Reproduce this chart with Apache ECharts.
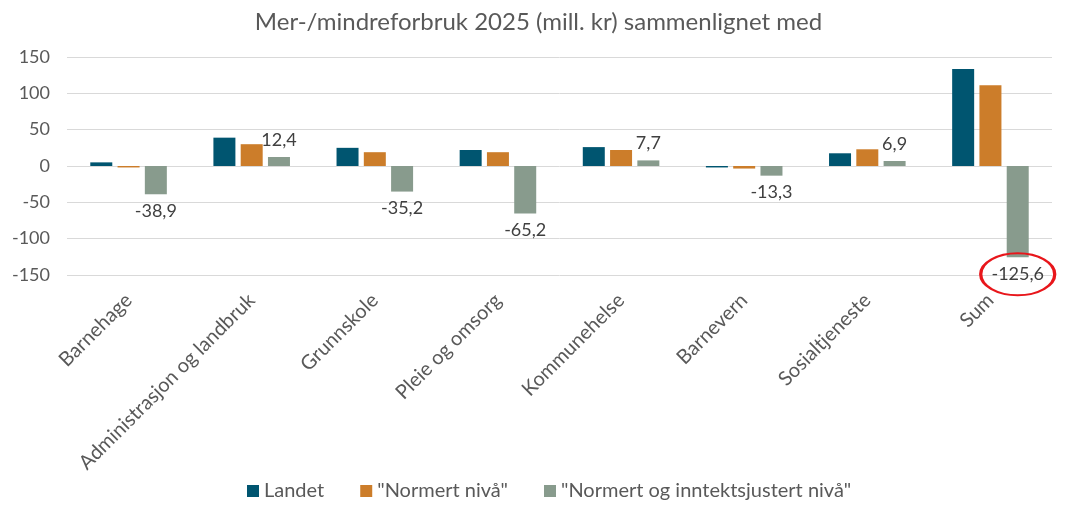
<!DOCTYPE html>
<html><head><meta charset="utf-8">
<script src="https://cdn.jsdelivr.net/npm/echarts@6/dist/echarts.min.js"></script>
<style>html,body{margin:0;padding:0;background:#fff}#c{width:1077px;height:509px}</style>
</head><body><div id="c"></div>
<script>
const categories = ["Barnehage","Administrasjon og landbruk","Grunnskole","Pleie og omsorg","Kommunehelse","Barnevern","Sosialtjeneste","Sum"];
const seriesNames = ["Landet","\"Normert nivå\"","\"Normert og inntektsjustert nivå\""];
const landet = [5, 39, 25, 22, 26, -2, 17.5, 133.5];
const normert = [-2, 30, 19, 19, 22, -3.5, 23, 111];
const inntektsjustert = [-38.9, 12.4, -35.2, -65.2, 7.7, -13.3, 6.9, -125.6];
const yTicks = {min: -150, max: 150, interval: 50};
const highlightCategory = "Sum";

const FONT = "Lato, 'Open Sans', sans-serif";
const colors = ["#005570", "#cc7d2a", "#889b8d"];
const fmt = v => String(v).replace('.', ',');

const chart = echarts.init(document.getElementById('c'), null, {renderer: 'canvas'});
const greenData = inntektsjustert.map(v => ({
  value: v,
  label: {position: v >= 0 ? 'top' : 'bottom', distance: 8}
}));
const hi = categories.indexOf(highlightCategory);
chart.setOption({
  animation: false,
  textStyle: {fontFamily: FONT},
  title: {
    text: "Mer-/mindreforbruk 2025 (mill. kr) sammenlignet med",
    left: 'center', top: 5,
    textStyle: {fontFamily: FONT, fontSize: 24, fontWeight: 'normal', color: '#595959'}
  },
  legend: {
    bottom: 3, left: 242,
    itemWidth: 12, itemHeight: 12, itemGap: 36,
    icon: 'rect',
    textStyle: {fontFamily: FONT, fontSize: 20, color: '#595959'},
    data: seriesNames
  },
  grid: {left: 67, right: 25, top: 57, bottom: 234, containLabel: false},
  xAxis: {
    type: 'category', data: categories,
    axisLine: {show: false, onZero: false}, axisTick: {show: false},
    axisLabel: {rotate: 45, fontFamily: FONT, fontSize: 20, color: '#595959', margin: 22, interval: 0}
  },
  yAxis: {
    type: 'value', min: yTicks.min, max: yTicks.max, interval: yTicks.interval,
    axisLine: {show: false}, axisTick: {show: false},
    axisLabel: {fontFamily: FONT, fontSize: 18, color: '#595959', margin: 17},
    splitLine: {lineStyle: {color: '#d9d9d9', width: 1}}
  },
  series: [
    {name: seriesNames[0], type: 'bar', data: landet, barWidth: 22, barGap: '24%', itemStyle: {color: colors[0]}},
    {name: seriesNames[1], type: 'bar', data: normert, barWidth: 22, barGap: '24%', itemStyle: {color: colors[1]}},
    {name: seriesNames[2], type: 'bar', data: greenData, barWidth: 22, barGap: '24%', itemStyle: {color: colors[2]},
     label: {show: true, fontFamily: FONT, fontSize: 18, color: '#404040', formatter: p => fmt(p.value)},
     markPoint: {
       silent: true,
       data: [{coord: [hi, inntektsjustert[hi]], symbol: 'circle', symbolSize: [74, 42], symbolOffset: [0, 17],
               itemStyle: {color: 'rgba(0,0,0,0)', borderColor: '#e8161b', borderWidth: 2.5}, label: {show: false}}]
     }}
  ]
});
</script></body></html>
